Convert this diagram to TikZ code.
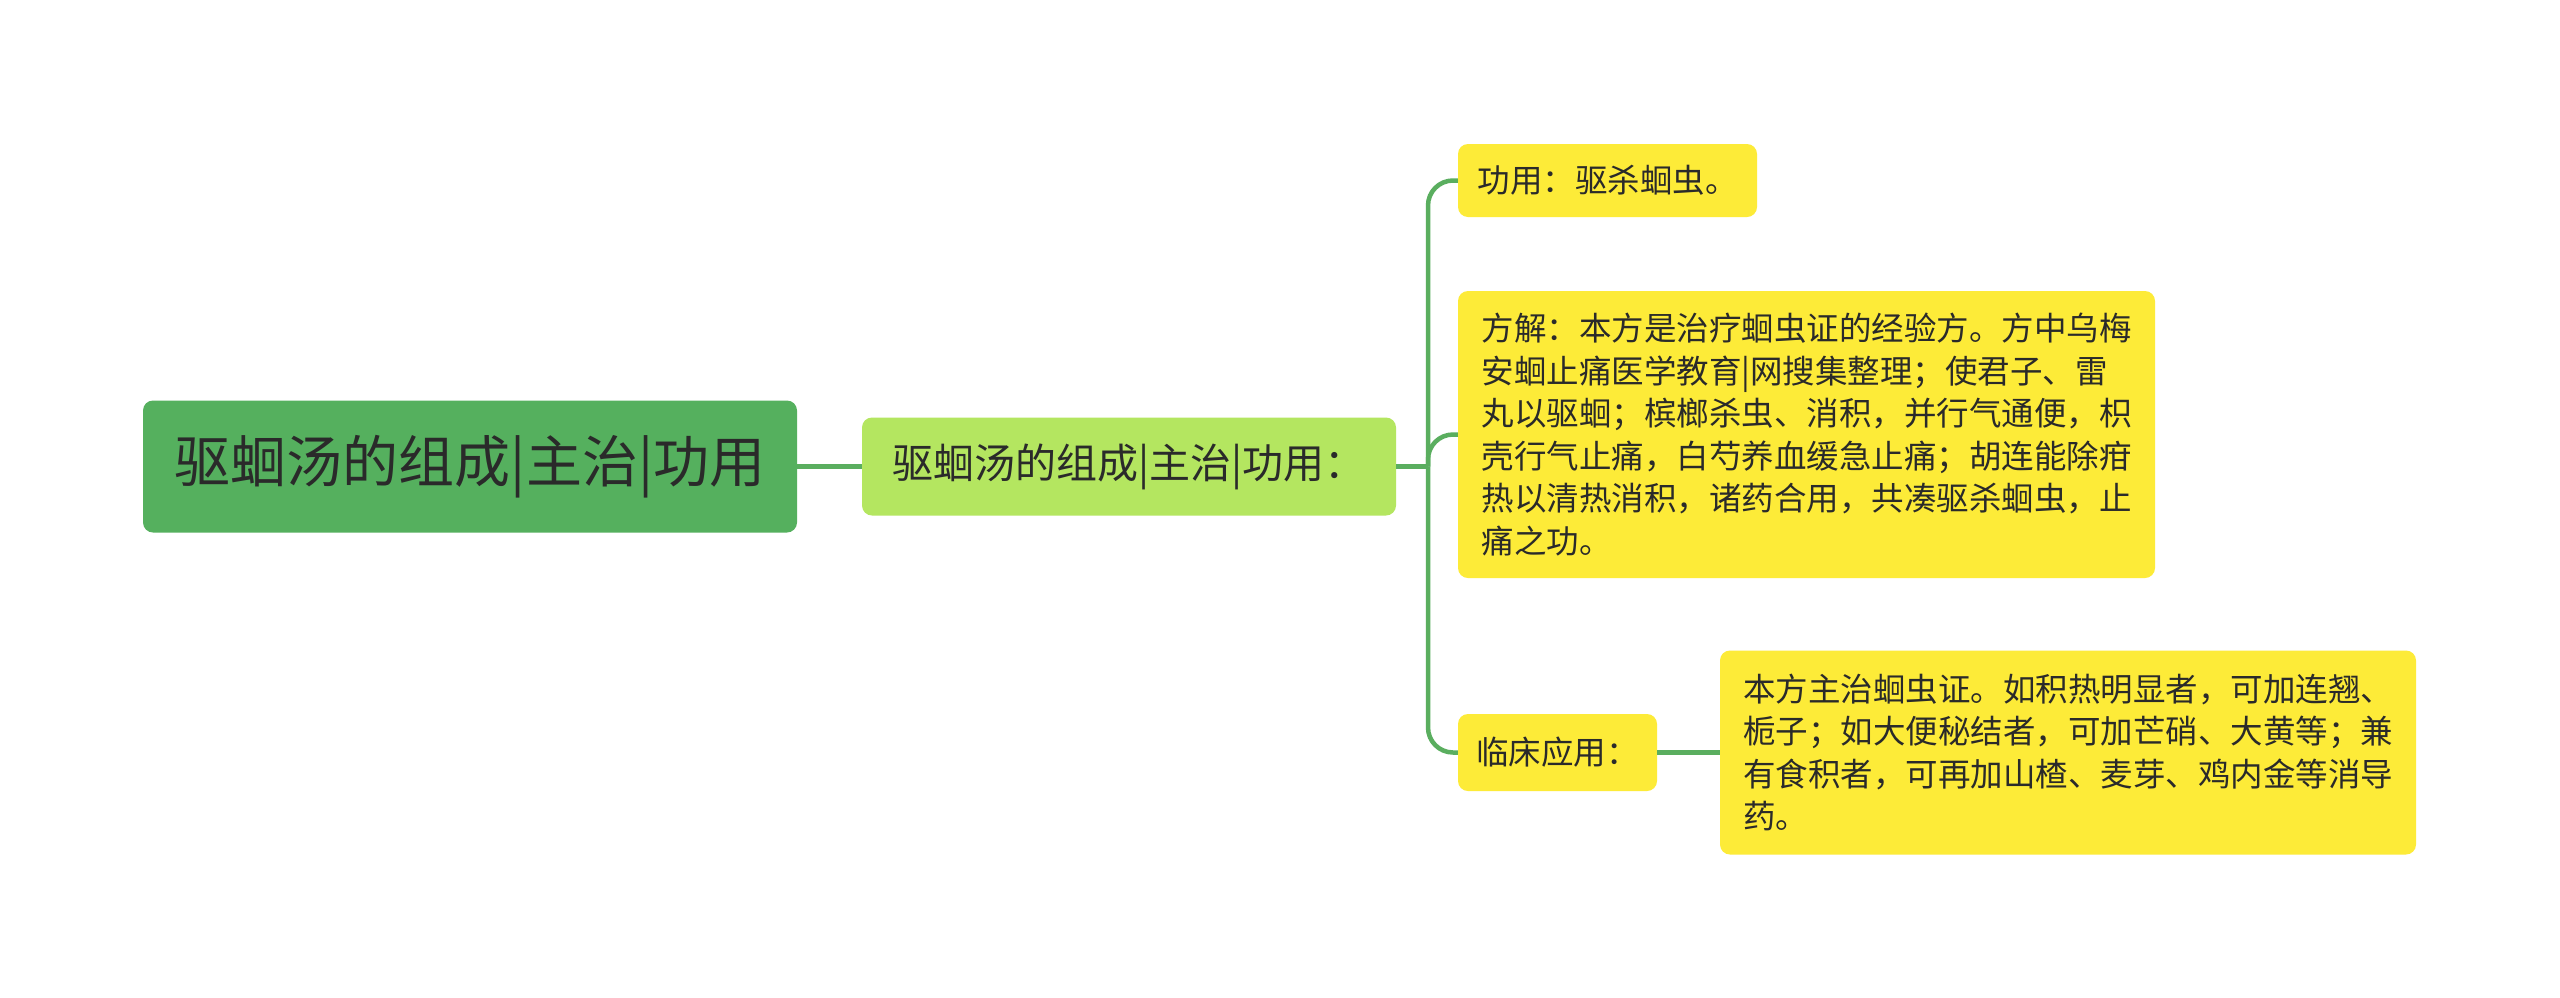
\documentclass[tikz,border=0pt]{standalone}
\usepackage{fontspec}
\setmainfont{Noto Sans CJK SC}
\definecolor{rootgreen}{HTML}{55B05E}
\definecolor{lightgreen}{HTML}{B4E660}
\definecolor{leafyellow}{HTML}{FDEB38}
\definecolor{linkgreen}{HTML}{5AAE5F}
\definecolor{txt}{HTML}{2A2A2A}
\tikzset{
  box/.style={rectangle, rounded corners=10pt, inner sep=0pt, text=txt, anchor=center},
  rootbox/.style={box, fill=rootgreen, minimum width=654pt, minimum height=132pt, font=\fontsize{56}{66}\selectfont},
  subbox/.style={box, fill=lightgreen, minimum width=534pt, minimum height=98pt, font=\fontsize{41}{48}\selectfont},
  leafbox/.style={box, fill=leafyellow, align=left, font=\fontsize{32.5}{42.6}\selectfont},
  link/.style={draw=linkgreen, line width=4.5pt},
  curvelink/.style={link, rounded corners=25pt}
}
\begin{document}
\begin{tikzpicture}[x=1pt,y=-1pt]
\useasboundingbox[fill=white] (0,0) rectangle (2560,997);
\node[rootbox] (root) at (470,466.5) {驱蛔汤的组成|主治|功用};
\node[subbox] (sub) at (1129,466.5) {驱蛔汤的组成|主治|功用：};
\node[leafbox, minimum width=299pt, minimum height=73pt] (c1) at (1607.5,180.5) {功用：驱杀蛔虫。};
\node[leafbox, minimum width=697pt, minimum height=287pt] (c2) at (1806.5,434.5) {方解：本方是治疗蛔虫证的经验方。方中乌梅\\安蛔止痛医学教育|网搜集整理；使君子、雷\\丸以驱蛔；槟榔杀虫、消积，并行气通便，枳\\壳行气止痛，白芍养血缓急止痛；胡连能除疳\\热以清热消积，诸药合用，共凑驱杀蛔虫，止\\痛之功。};
\node[leafbox, minimum width=199pt, minimum height=77pt] (c3) at (1557.5,752.5) {临床应用：};
\node[leafbox, minimum width=696pt, minimum height=204pt] (g1) at (2068,752.5) {本方主治蛔虫证。如积热明显者，可加连翘、\\栀子；如大便秘结者，可加芒硝、大黄等；兼\\有食积者，可再加山楂、麦芽、鸡内金等消导\\药。};
\coordinate (trunk) at (1428,466.5);
\draw[link] (root.east) -- (sub.west);
\draw[link] (sub.east) -- (trunk);
\draw[curvelink] (trunk) |- (c1.west);
\draw[curvelink] (trunk) |- (c2.west);
\draw[curvelink] (trunk) |- (c3.west);
\draw[link] (c3.east) -- (g1.west);
\end{tikzpicture}
\end{document}
